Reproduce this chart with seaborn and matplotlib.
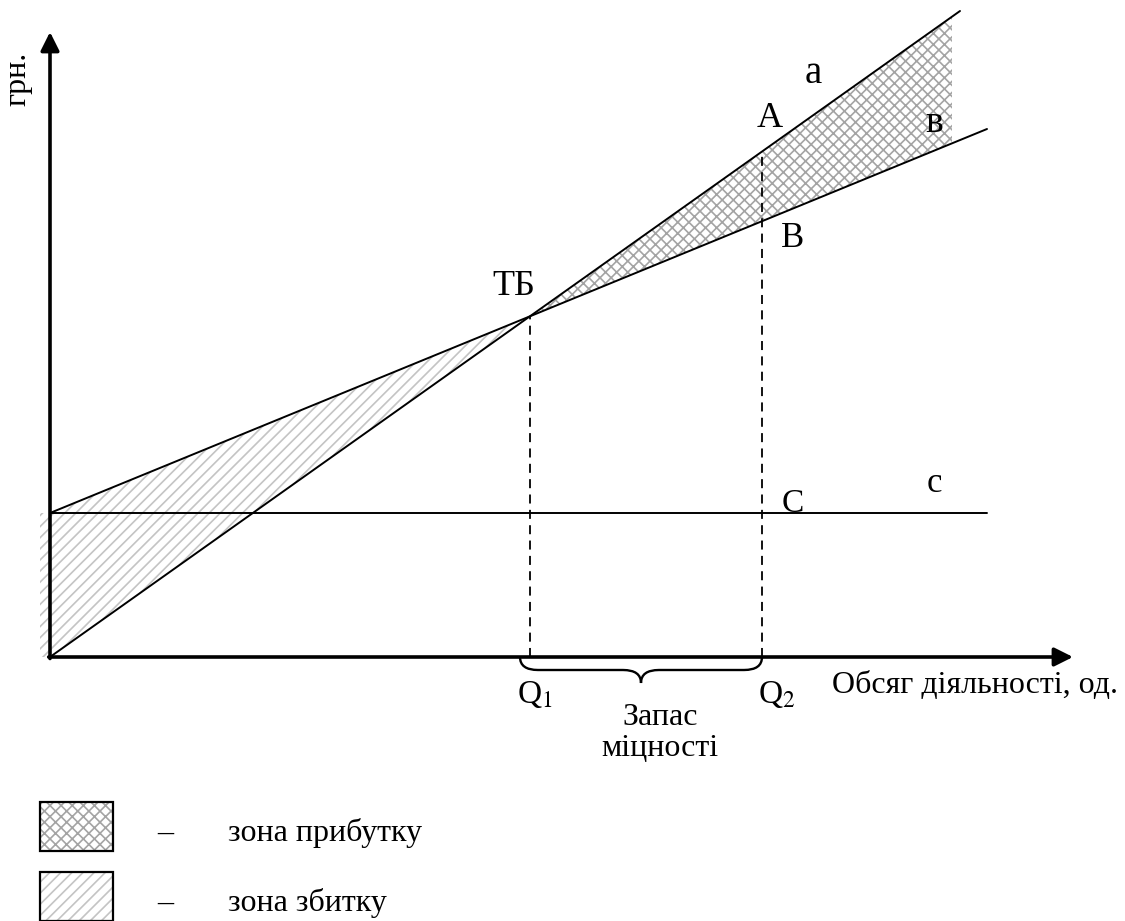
import numpy as np
import seaborn as sns
import matplotlib.pyplot as plt
from matplotlib.patches import Rectangle, PathPatch
from matplotlib.path import Path

# --- дані графіка беззбитковості ---
revenue_x = [0, 91.0]        # лінія а (виручка)
revenue_y = [0, 64.6]
cost_x = [0, 93.7]           # лінія в (сукупні витрати)
cost_y = [14.4, 52.8]
fixed_x = [0, 93.7]          # лінія с (постійні витрати)
fixed_y = [14.4, 14.4]
q1 = 48.0                    # точка беззбитковості
q2 = 71.2                    # фактичний обсяг
profit_end = 90.2            # правий край зони прибутку

sns.set_style("white")
plt.rcParams["font.family"] = ["Liberation Serif", "DejaVu Serif"]
plt.rcParams["text.color"] = "black"
plt.rcParams["mathtext.fontset"] = "stix"
plt.rcParams["hatch.linewidth"] = 1.2

fig = plt.figure(figsize=(11.25, 9.21), dpi=100)
ax = fig.add_axes([0, 0, 1, 1])
ax.set_xlim(-5, 107.5)
ax.set_ylim(-26.4, 65.7)
ax.axis("off")

rev = lambda x: np.interp(x, revenue_x, revenue_y)
cst = lambda x: np.interp(x, cost_x, cost_y)

# зони
xl = np.linspace(0, q1, 50)
ax.fill_between(xl, rev(xl), cst(xl), facecolor="white", edgecolor="#c4c4c4",
                hatch="///", linewidth=0)
ax.fill_between([-1.0, 0], [0, 0], [fixed_y[0], fixed_y[0]], facecolor="white",
                edgecolor="#c4c4c4", hatch="///", linewidth=0)
xp = np.linspace(q1, profit_end, 50)
ax.fill_between(xp, cst(xp), rev(xp), facecolor="white", edgecolor="#a4a4a4",
                hatch="xxx", linewidth=0)

# лінії
sns.lineplot(x=revenue_x, y=revenue_y, ax=ax, color="black", lw=1.4)
sns.lineplot(x=cost_x, y=cost_y, ax=ax, color="black", lw=1.4)
sns.lineplot(x=fixed_x, y=fixed_y, ax=ax, color="black", lw=1.4)

# пунктири
ax.plot([q1, q1], [0, rev(q1)], color="black", lw=1.3, ls=(0, (5, 3.5)))
ax.plot([q2, q2], [0, rev(q2)], color="black", lw=1.3, ls=(0, (5, 3.5)))

# осі
arrow = dict(arrowstyle="-|>", lw=2.6, color="black", mutation_scale=28,
             shrinkA=0, shrinkB=0)
ax.annotate("", xy=(0, 62.5), xytext=(0, -0.15), arrowprops=arrow)
ax.annotate("", xy=(102.3, 0), xytext=(-0.13, 0), arrowprops=arrow)

# фігурна дужка
x0, x1 = q1 - 1.0, q2
xm = (x0 + x1) / 2
y0, ym, yt = 0.0, -1.3, -2.6
d = 1.8
verts = [(x0, y0), (x0, ym), (x0 + d, ym), (xm - d, ym), (xm, ym), (xm, yt),
         (xm, ym), (xm + d, ym), (x1 - d, ym), (x1, ym), (x1, y0)]
codes = [Path.MOVETO, Path.CURVE3, Path.CURVE3, Path.LINETO, Path.CURVE3, Path.CURVE3,
         Path.CURVE3, Path.CURVE3, Path.LINETO, Path.CURVE3, Path.CURVE3]
ax.add_patch(PathPatch(Path(verts, codes), fill=False, lw=1.7, color="black"))

# підписи
fs = 23
ax.text(-3.2, 57.8, "грн.", rotation=90, ha="center", va="center", fontsize=fs)
ax.text(76.3, 57.4, "а", ha="center", va="baseline", fontsize=28)
ax.text(72.0, 53.0, "A", ha="center", va="baseline", fontsize=26)
ax.text(88.4, 52.5, "в", ha="center", va="baseline", fontsize=27)
ax.text(74.3, 41.0, "B", ha="center", va="baseline", fontsize=25)
ax.text(46.4, 36.2, "ТБ", ha="center", va="baseline", fontsize=26)
ax.text(74.3, 14.5, "C", ha="center", va="baseline", fontsize=24)
ax.text(88.4, 16.5, "с", ha="center", va="baseline", fontsize=25)
ax.text(46.7, -4.6, "Q$_{1}$", ha="left", va="baseline", fontsize=24)
ax.text(70.8, -4.6, "Q$_{2}$", ha="left", va="baseline", fontsize=24)
ax.text(61.0, -6.8, "Запас", ha="center", va="baseline", fontsize=fs)
ax.text(61.0, -9.9, "міцності", ha="center", va="baseline", fontsize=fs)
ax.text(78.2, -3.6, "Обсяг діяльності, од.", ha="left", va="baseline", fontsize=fs)

# легенда
legend_items = [("xxx", "#a4a4a4", "зона прибутку", -19.4),
                ("///", "#c4c4c4", "зона збитку", -26.4)]
for hatch, col, label, yb in legend_items:
    ax.add_patch(Rectangle((-1.0, yb), 7.3, 4.9, facecolor="white", edgecolor=col,
                           hatch=hatch, lw=0))
    ax.add_patch(Rectangle((-1.0, yb), 7.3, 4.9, fill=False, edgecolor="black", lw=1.6))
    ax.text(11.5, yb + 1.8, "–", ha="center", va="center", fontsize=fs)
    ax.text(17.8, yb + 1.8, label, ha="left", va="center", fontsize=fs)

fig.savefig("out.png", dpi=100)
